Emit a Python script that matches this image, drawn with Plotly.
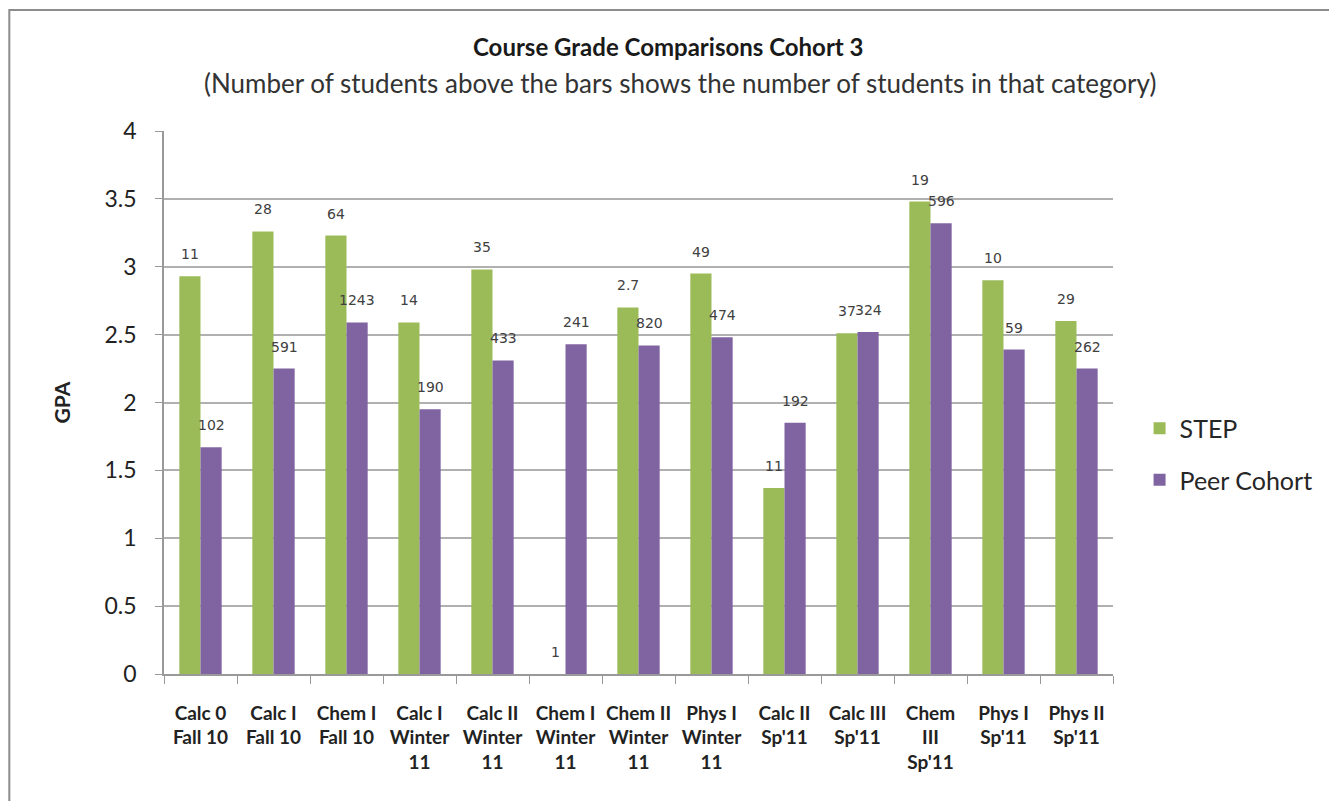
import plotly.graph_objects as go

categories = ["Calc 0<br>Fall 10", "Calc I<br>Fall 10", "Chem I<br>Fall 10",
              "Calc I<br>Winter<br>11", "Calc II<br>Winter<br>11", "Chem I<br>Winter<br>11",
              "Chem II<br>Winter<br>11", "Phys I<br>Winter<br>11", "Calc II<br>Sp'11",
              "Calc III<br>Sp'11", "Chem<br>III<br>Sp'11", "Phys I<br>Sp'11", "Phys II<br>Sp'11"]
step_gpa = [2.93, 3.26, 3.23, 2.59, 2.98, 0.0, 2.70, 2.95, 1.37, 2.51, 3.48, 2.90, 2.60]
peer_gpa = [1.67, 2.25, 2.59, 1.95, 2.31, 2.43, 2.42, 2.48, 1.85, 2.52, 3.32, 2.39, 2.25]
step_n = ["11", "28", "64", "14", "35", "1", "2.7", "49", "11", "37", "19", "10", "29"]
peer_n = ["102", "591", "1243", "190", "433", "241", "820", "474", "192", "324", "596", "59", "262"]

green = "#9BBB59"
purple = "#8064A2"
label_font = dict(family="DejaVu Sans", size=14, color="#404040")

fig = go.Figure()
fig.add_trace(go.Bar(x=categories, y=step_gpa, name="STEP", marker_color=green,
                     marker_line_width=0, legendgroup="a"))
fig.add_trace(go.Bar(x=categories, y=peer_gpa, name="Peer Cohort", marker_color=purple,
                     marker_line_width=0, legendgroup="b"))

# count labels above bars
for cat, v, n in zip(categories, step_gpa, step_n):
    fig.add_annotation(x=cat, y=v, text=n, showarrow=False, xshift=-10.5, yshift=22,
                       font=label_font)
for cat, v, n in zip(categories, peer_gpa, peer_n):
    fig.add_annotation(x=cat, y=v, text=n, showarrow=False, xshift=10.5, yshift=22,
                       font=label_font)

fig.add_annotation(x=0.532, y=1.155, xref="paper", yref="paper", showarrow=False,
                   yanchor="middle",
                   text="<b>Course Grade Comparisons Cohort 3</b>",
                   font=dict(family="Lato", size=24, color="#1a1a1a"))
fig.add_annotation(x=0.544, y=1.088, xref="paper", yref="paper", showarrow=False,
                   yanchor="middle",
                   text="(Number of students above the bars shows the number of students in that category)",
                   font=dict(family="Lato", size=26, color="#333333"))

# chart border
fig.add_shape(type="rect", xref="paper", yref="paper", x0=-0.163, x1=1.3, y0=-0.3, y1=1.223,
              line=dict(color="#8c8c8c", width=2))

fig.update_layout(
    width=1329, height=793,
    margin=dict(l=156, r=224, t=123, b=127),
    paper_bgcolor="white", plot_bgcolor="white",
    barmode="group", bargap=0.42, bargroupgap=0,
    font=dict(family="Lato", color="#222222"),
    showlegend=True,
    legend=dict(x=1.028, y=0.405, xanchor="left", yanchor="middle",
                font=dict(family="Lato", size=25, color="#262626"),
                tracegroupgap=16, itemwidth=30),
    xaxis=dict(showline=True, linecolor="#999999", linewidth=1.5, ticks="outside",
               tickson="boundaries", ticklen=8, tickcolor="#999999",
               ticklabelstandoff=21,
               tickfont=dict(family="Lato", size=19, color="#222222", weight="bold"),
               tickangle=0, showgrid=False),
    yaxis=dict(range=[0, 4], dtick=0.5, showline=True, linecolor="#999999", linewidth=1.5,
               ticks="outside", ticklen=7, tickcolor="#999999", showgrid=True,
               ticklabelstandoff=14,
               gridcolor="#b0b0b0", gridwidth=2, zeroline=False,
               tickfont=dict(family="Lato", size=23, color="#222222"),
               title=dict(text="<b>GPA</b>", font=dict(family="Lato", size=21), standoff=28)),
)

fig.write_html("out.html")
